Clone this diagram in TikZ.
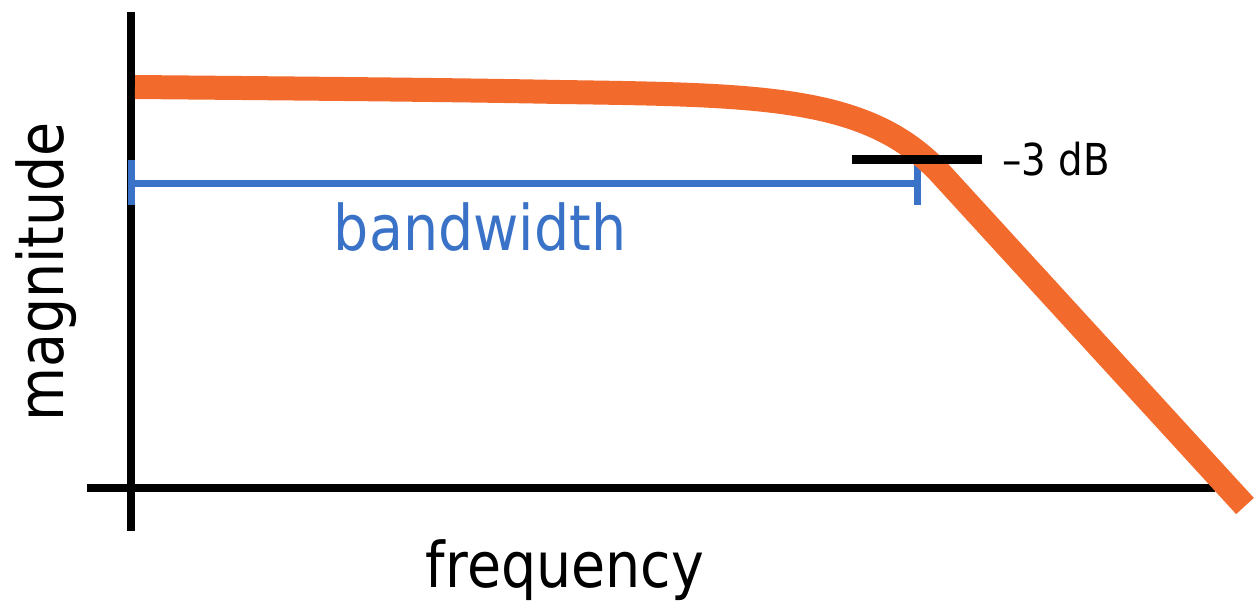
\documentclass[tikz,border=0pt]{standalone}
\usepackage{fontspec}
\setmainfont{DejaVu Sans}[FakeStretch=0.88]
\definecolor{curveorange}{RGB}{242,106,44}
\definecolor{bandblue}{RGB}{58,114,200}
\begin{document}
\begin{tikzpicture}[x=1pt,y=-1pt,
  axis/.style={line width=8pt,black},
  band/.style={line width=7pt,bandblue},
  response/.style={line width=24pt,curveorange},
  marker/.style={line width=9pt,black},
  biglabel/.style={font=\fontsize{63}{70}\selectfont,inner sep=0pt},
  smalllabel/.style={font=\fontsize{44}{50}\selectfont,inner sep=0pt}]
\useasboundingbox (0,0) rectangle (1256,608);

% axes
\coordinate (ytop) at (131,12);
\coordinate (ybot) at (131,531);
\coordinate (xleft) at (87,488);
\coordinate (xright) at (1215,488);
\draw[axis] (ytop) -- (ybot);
\draw[axis] (xleft) -- (xright);

% bandwidth bracket
\coordinate (bwl) at (131,183);
\coordinate (bwr) at (917,183);
\draw[band] (bwl) -- (bwr);
\draw[band] (131,160) -- (131,205);
\draw[band] (917,162) -- (917,205);

% frequency response
\coordinate (r0) at (135,87);
\coordinate (r1) at (560,92);
\coordinate (r2) at (942,175);
\coordinate (r3) at (1245,506);
\draw[response] (r0) .. controls (350,89) and (460,90) .. (r1)
  .. controls (765,95) and (870,96) .. (r2) -- (r3);

% -3 dB marker
\coordinate (ml) at (852,159);
\coordinate (mr) at (982,159);
\draw[marker] (ml) -- (mr);

% labels
\node[smalllabel,anchor=base west] (db) at (1002,175) {–3 dB};
\node[biglabel,anchor=base,text=bandblue] (bw) at (480,250) {bandwidth};
\node[biglabel,anchor=base] (freq) at (565,587) {frequency};
\node[biglabel,anchor=base,rotate=90] (mag) at (63,272) {magnitude};
\end{tikzpicture}
\end{document}
